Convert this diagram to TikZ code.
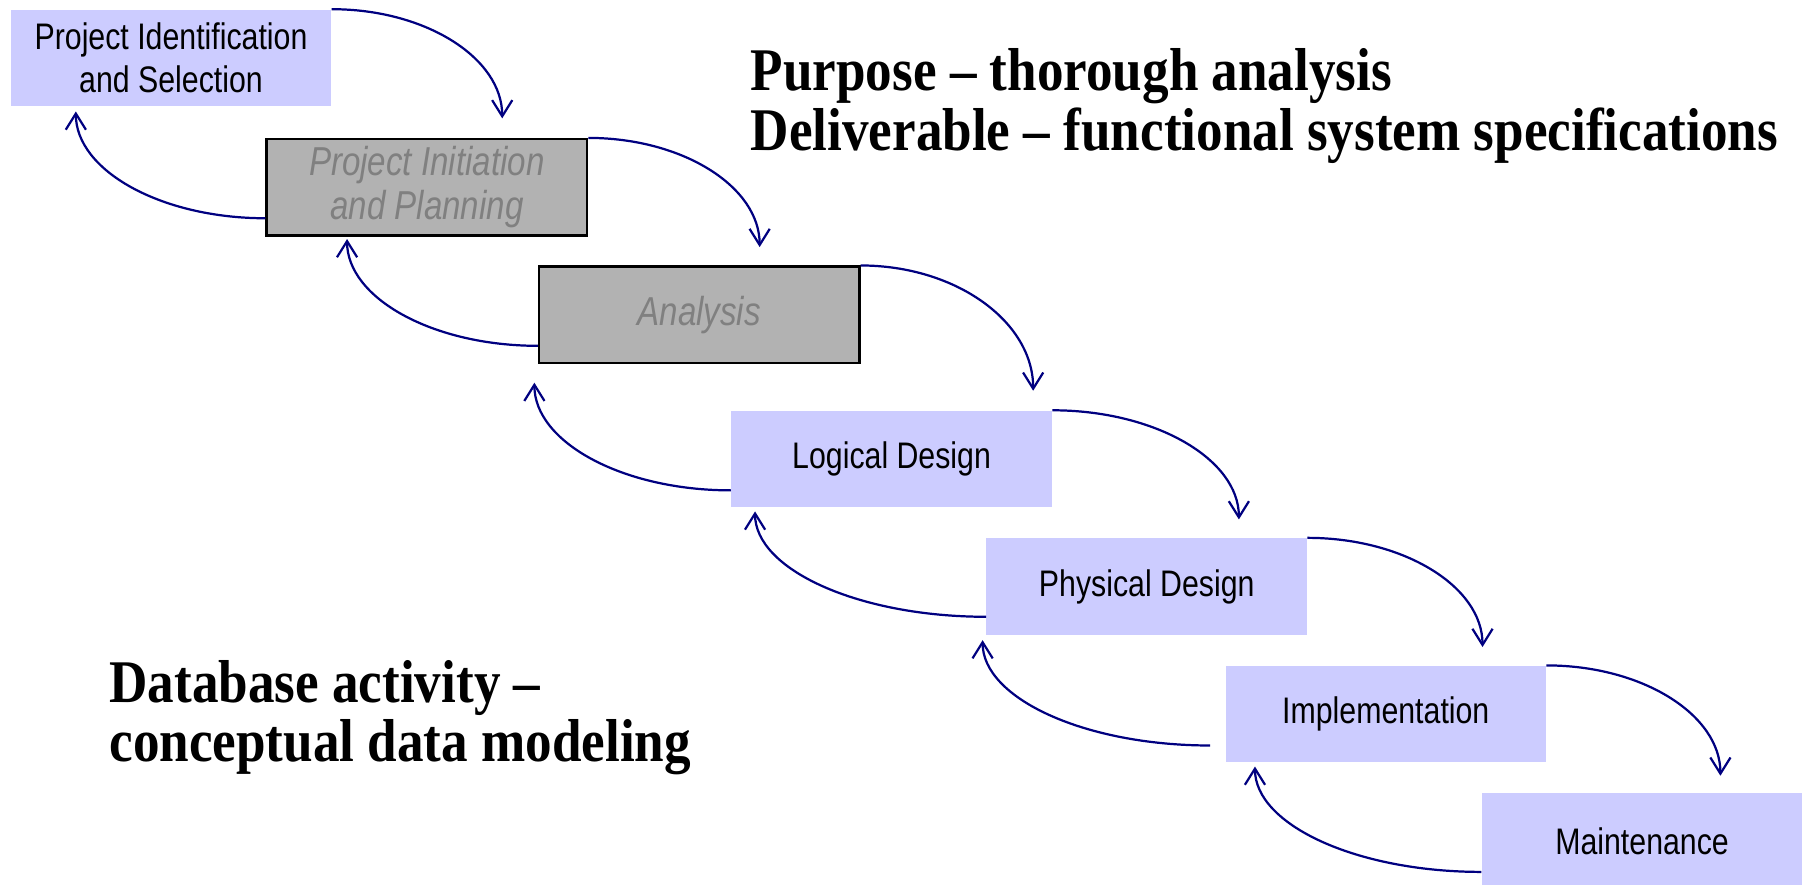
\documentclass[tikz,border=0pt]{standalone}
\usepackage{fontspec}
\setmainfont{Liberation Serif}
\newfontfamily\phasefont[FakeStretch=0.82]{Liberation Sans}
\newfontfamily\notefont[FakeStretch=0.877]{Liberation Serif}
\usetikzlibrary{arrows.meta,positioning,calc}

\definecolor{phaseblue}{RGB}{204,204,255}
\definecolor{phasegray}{RGB}{178,178,178}
\definecolor{labelgray}{RGB}{128,128,128}
\definecolor{flownavy}{RGB}{0,0,128}

\begin{document}
\begin{tikzpicture}[x=0.02cm, y=0.02cm,
    phase/.style={fill=phaseblue, inner sep=0pt, anchor=north west,
      minimum width=5.58cm, minimum height=1.68cm, align=center,
      font=\phasefont\fontsize{18.3}{21}\selectfont},
    donephase/.style={phase, fill=phasegray, draw=black, line width=1.1pt,
      text=labelgray, font=\phasefont\itshape\fontsize{20}{22}\selectfont},
    flow/.style={draw=flownavy, line width=1.1pt,
      -{Straight Barb[length=8pt,width=10pt]},
      to path={.. controls ($(\tikztostart)!0.552!(\tikztostart -| \tikztotarget)$)
        and ($(\tikztotarget)!0.552!(\tikztostart -| \tikztotarget)$) .. (\tikztotarget)}},
    note/.style={anchor=north west, align=left, inner sep=0pt,
      font=\notefont\bfseries\fontsize{30}{29.6}\selectfont}]
    \useasboundingbox (0,0) rectangle (1568,-770);

    % Phases
    \node[phase] (pis) at (9,-8) {Project Identification\\and Selection};
    \node[donephase] (pip) at (231,-120) {Project Initiation\\and Planning};
    \node[donephase] (ana) at (468,-231) {Analysis};
    \node[phase] (lgd) at (636,-357) {Logical Design};
    \node[phase] (phd) at (858,-468) {Physical Design};
    \node[phase] (imp) at (1066,-579) {Implementation};
    \node[phase] (mnt) at (1289,-690) {Maintenance};

    % Arrow tips
    \coordinate (down1) at (437,-103);
    \coordinate (down2) at (661,-215);
    \coordinate (down3) at (899,-340);
    \coordinate (down4) at (1078,-452);
    \coordinate (down5) at (1290,-563);
    \coordinate (down6) at (1497,-675);
    \coordinate (up1) at (66,-97);
    \coordinate (up2) at (302,-208);
    \coordinate (up3) at (465,-333);
    \coordinate (up4) at (657,-445);
    \coordinate (up5) at (855,-557);
    \coordinate (up6) at (1092,-667);

    % Where the way back starts
    \coordinate (back2) at ($(pip.south west)+(0,16)$);
    \coordinate (back3) at ($(ana.south west)+(0,16)$);
    \coordinate (back4) at ($(lgd.south west)+(0,15)$);
    \coordinate (back5) at ($(phd.south west)+(0,16)$);
    \coordinate (back6) at ($(imp.south west)+(-13,15)$);
    \coordinate (back7) at ($(mnt.south west)+(0,16)$);

    % Forward flow
    \draw[flow] (pis.north east) to (down1);
    \draw[flow] (pip.north east) to (down2);
    \draw[flow] (ana.north east) to (down3);
    \draw[flow] (lgd.north east) to (down4);
    \draw[flow] (phd.north east) to (down5);
    \draw[flow] (imp.north east) to (down6);

    % Going back
    \draw[flow] (back2) to (up1);
    \draw[flow] (back3) to (up2);
    \draw[flow] (back4) to (up3);
    \draw[flow] (back5) to (up4);
    \draw[flow] (back6) to (up5);
    \draw[flow] (back7) to (up6);

    % Notes
    \node[note] (purpose) at (653,-42) {Purpose – thorough analysis\\Deliverable – functional system specifications};
    \node[note] (activity) at (95,-574) {Database activity –\\conceptual data modeling};
\end{tikzpicture}
\end{document}
